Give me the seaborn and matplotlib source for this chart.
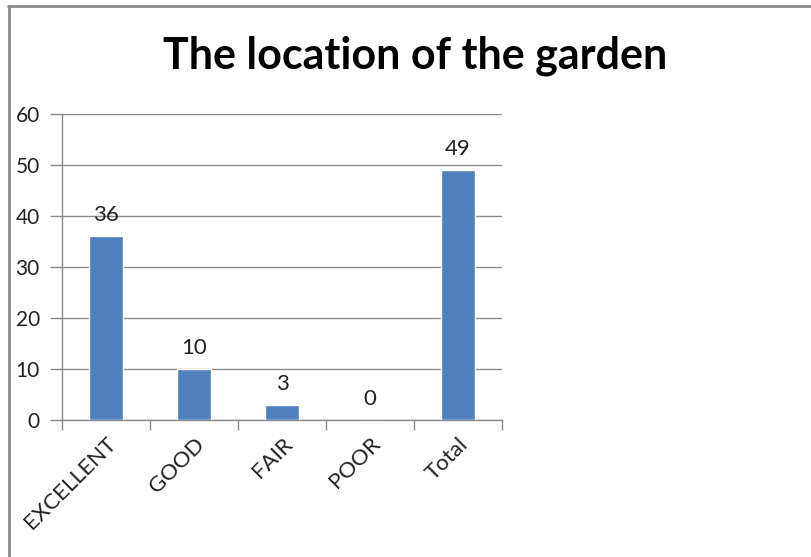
import pandas as pd
import seaborn as sns
import matplotlib.pyplot as plt
from matplotlib.lines import Line2D

categories = ['EXCELLENT', 'GOOD', 'FAIR', 'POOR', 'Total']
counts = [36, 10, 3, 0, 49]
yticks = [0, 10, 20, 30, 40, 50, 60]

df = pd.DataFrame({'rating': categories, 'count': counts})

sns.set_style('white')
plt.rcParams['font.family'] = ['Lato', 'DejaVu Sans']

fig = plt.figure(figsize=(8.12, 5.57), dpi=100)
ax = fig.add_axes([62/812, 1 - 420/557, 440/812, 306/557])

sns.barplot(data=df, x='rating', y='count', color='#4F81BD', saturation=1,
            width=0.39, ax=ax, zorder=3)
ax.bar_label(ax.containers[0], padding=8, fontsize=16, color='#222222')

ax.set_ylim(0, 60)
ax.set_yticks(yticks)
ax.set_xlim(-0.5, len(categories) - 0.5)
ax.yaxis.grid(True, color='#8a8a8a', linewidth=1, zorder=0)
ax.set_xlabel('')
ax.set_ylabel('')

# ticks at the category boundaries
ax.set_xticks([i - 0.5 for i in range(len(categories) + 1)], minor=True)
ax.set_xticks(range(len(categories)))
ax.set_xticklabels(categories, rotation=45, ha='right', rotation_mode='anchor',
                   fontsize=16, color='#222222')
ax.tick_params(axis='x', which='major', length=0, pad=10)
ax.tick_params(axis='x', which='minor', length=7, color='#8a8a8a', width=1, bottom=True)
ax.tick_params(axis='y', length=9, color='#8a8a8a', width=1, left=True,
               labelsize=15, labelcolor='#222222', pad=7)

for s in ['top', 'right']:
    ax.spines[s].set_visible(False)
for s in ['left', 'bottom']:
    ax.spines[s].set_color('#8a8a8a')
    ax.spines[s].set_linewidth(1)

fig.text(415/812, 1 - 56/557, 'The location of the garden', ha='center', va='center',
         fontsize=31, fontweight='bold', color='black')

# chart area border (cut off at right and bottom)
fig.add_artist(Line2D([9/812, 9/812], [0, 1 - 6/557], color='#8c8c8c', linewidth=2,
                      transform=fig.transFigure))
fig.add_artist(Line2D([8/812, 1], [1 - 6/557, 1 - 6/557], color='#8c8c8c', linewidth=2,
                      transform=fig.transFigure))

fig.savefig('out.png', dpi=100)
